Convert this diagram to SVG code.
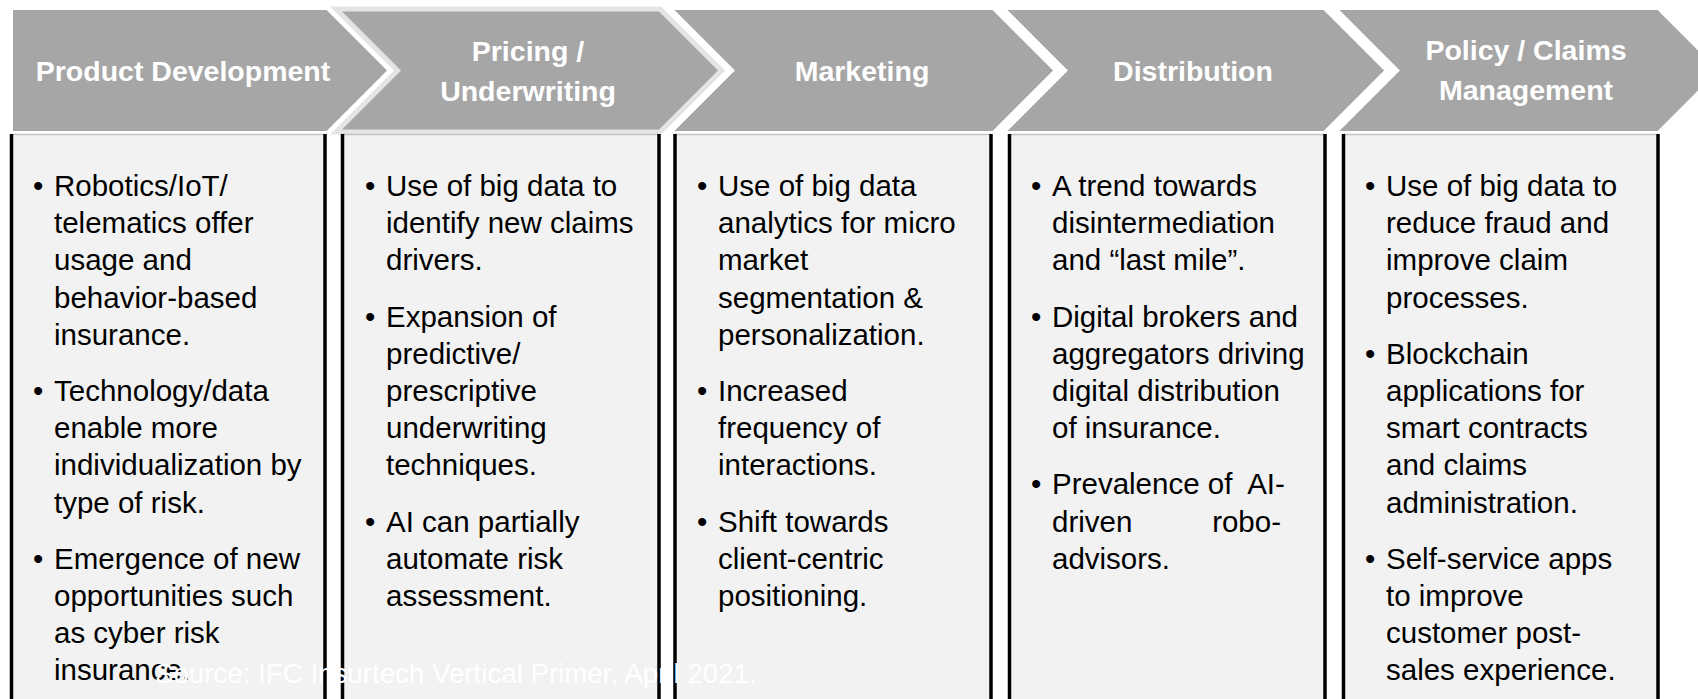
<svg xmlns="http://www.w3.org/2000/svg" width="1698" height="699" viewBox="0 0 1698 699">
<style>
.chev{fill:#a6a6a6;stroke:#ffffff;stroke-width:2}
.chev2{fill:#a6a6a6;stroke:#e4e4e4;stroke-width:5;stroke-linejoin:miter}
.hd{font-family:"Liberation Sans",Arial,sans-serif;font-weight:bold;font-size:28.5px;fill:#ffffff;text-anchor:middle}
.col{fill:#f2f2f2}
.top{stroke:#c4c4c4;stroke-width:1.5}
.bd{stroke:#000000;stroke-width:3.5}
.tx{font-family:"Liberation Sans",Arial,sans-serif;font-size:29.5px;fill:#000000;white-space:pre}
.src{font-family:"Liberation Sans",Arial,sans-serif;font-size:27.7px;fill:#ffffff}
</style>
<rect width="1698" height="699" fill="#ffffff"/>

<g id="product-development">
<polygon class="chev" points="12,9 327,9 388.5,70.5 327,132 12,132"/>
<text class="hd" x="183" y="81">Product Development</text>
<rect class="col" x="11.5" y="134" width="313.5" height="565"/>
<line class="top" x1="11.5" y1="134.5" x2="325" y2="134.5"/>
<line class="bd" x1="11.5" y1="134" x2="11.5" y2="699"/>
<line class="bd" x1="325" y1="134" x2="325" y2="699"/>
<text class="tx">
<tspan x="33" y="196">•</tspan><tspan x="54" y="196">Robotics/IoT/</tspan>
<tspan x="54" y="233.2">telematics offer</tspan>
<tspan x="54" y="270.4">usage and</tspan>
<tspan x="54" y="307.6">behavior-based</tspan>
<tspan x="54" y="344.8">insurance.</tspan>
<tspan x="33" y="401">•</tspan><tspan x="54" y="401">Technology/data</tspan>
<tspan x="54" y="438.2">enable more</tspan>
<tspan x="54" y="475.4">individualization by</tspan>
<tspan x="54" y="512.6">type of risk.</tspan>
<tspan x="33" y="568.8">•</tspan><tspan x="54" y="568.8">Emergence of new</tspan>
<tspan x="54" y="606">opportunities such</tspan>
<tspan x="54" y="643.2">as cyber risk</tspan>
<tspan x="54" y="680.4">insurance.</tspan>
</text>
</g>

<g id="pricing-underwriting">
<polygon class="chev2" points="336,9 660,9 721.5,70.5 660,132 336,132 397.5,70.5"/>
<text class="hd" x="528" y="61">Pricing /</text>
<text class="hd" x="528" y="101">Underwriting</text>
<rect class="col" x="342.5" y="134" width="316.5" height="565"/>
<line class="top" x1="342.5" y1="134.5" x2="659" y2="134.5"/>
<line class="bd" x1="342.5" y1="134" x2="342.5" y2="699"/>
<line class="bd" x1="659" y1="134" x2="659" y2="699"/>
<text class="tx">
<tspan x="365" y="196">•</tspan><tspan x="386" y="196">Use of big data to</tspan>
<tspan x="386" y="233.2">identify new claims</tspan>
<tspan x="386" y="270.4">drivers.</tspan>
<tspan x="365" y="326.6">•</tspan><tspan x="386" y="326.6">Expansion of</tspan>
<tspan x="386" y="363.8">predictive/</tspan>
<tspan x="386" y="401">prescriptive</tspan>
<tspan x="386" y="438.2">underwriting</tspan>
<tspan x="386" y="475.4">techniques.</tspan>
<tspan x="365" y="531.6">•</tspan><tspan x="386" y="531.6">AI can partially</tspan>
<tspan x="386" y="568.8">automate risk</tspan>
<tspan x="386" y="606">assessment.</tspan>
</text>
</g>

<g id="marketing">
<polygon class="chev" points="672,9 993,9 1054.5,70.5 993,132 672,132 733.5,70.5"/>
<text class="hd" x="862" y="81">Marketing</text>
<rect class="col" x="675" y="134" width="316" height="565"/>
<line class="top" x1="675" y1="134.5" x2="991" y2="134.5"/>
<line class="bd" x1="675" y1="134" x2="675" y2="699"/>
<line class="bd" x1="991" y1="134" x2="991" y2="699"/>
<text class="tx">
<tspan x="697" y="196">•</tspan><tspan x="718" y="196">Use of big data</tspan>
<tspan x="718" y="233.2">analytics for micro</tspan>
<tspan x="718" y="270.4">market</tspan>
<tspan x="718" y="307.6">segmentation &amp;</tspan>
<tspan x="718" y="344.8">personalization.</tspan>
<tspan x="697" y="401">•</tspan><tspan x="718" y="401">Increased</tspan>
<tspan x="718" y="438.2">frequency of</tspan>
<tspan x="718" y="475.4">interactions.</tspan>
<tspan x="697" y="531.6">•</tspan><tspan x="718" y="531.6">Shift towards</tspan>
<tspan x="718" y="568.8">client-centric</tspan>
<tspan x="718" y="606">positioning.</tspan>
</text>
</g>

<g id="distribution">
<polygon class="chev" points="1005,9 1324,9 1385.5,70.5 1324,132 1005,132 1066.5,70.5"/>
<text class="hd" x="1193" y="81">Distribution</text>
<rect class="col" x="1009.5" y="134" width="315.5" height="565"/>
<line class="top" x1="1009.5" y1="134.5" x2="1325" y2="134.5"/>
<line class="bd" x1="1009.5" y1="134" x2="1009.5" y2="699"/>
<line class="bd" x1="1325" y1="134" x2="1325" y2="699"/>
<text class="tx">
<tspan x="1031" y="196">•</tspan><tspan x="1052" y="196">A trend towards</tspan>
<tspan x="1052" y="233.2">disintermediation</tspan>
<tspan x="1052" y="270.4">and “last mile”.</tspan>
<tspan x="1031" y="326.6">•</tspan><tspan x="1052" y="326.6">Digital brokers and</tspan>
<tspan x="1052" y="363.8">aggregators driving</tspan>
<tspan x="1052" y="401">digital distribution</tspan>
<tspan x="1052" y="438.2">of insurance.</tspan>
<tspan x="1031" y="494.4">•</tspan><tspan x="1052" y="494.4">Prevalence of  AI-</tspan>
<tspan x="1052" y="531.6">driven</tspan>
<tspan x="1052" y="568.8">advisors.</tspan>
</text>
<text class="tx" x="1281" y="531.6" text-anchor="end">robo-</text>
</g>

<g id="policy-claims-management">
<polygon class="chev" points="1337,9 1658,9 1719.5,70.5 1658,132 1337,132 1398.5,70.5"/>
<text class="hd" x="1526" y="60">Policy / Claims</text>
<text class="hd" x="1526" y="100">Management</text>
<rect class="col" x="1343.5" y="134" width="314.5" height="565"/>
<line class="top" x1="1343.5" y1="134.5" x2="1658" y2="134.5"/>
<line class="bd" x1="1343.5" y1="134" x2="1343.5" y2="699"/>
<line class="bd" x1="1658" y1="134" x2="1658" y2="699"/>
<text class="tx">
<tspan x="1365" y="196">•</tspan><tspan x="1386" y="196">Use of big data to</tspan>
<tspan x="1386" y="233.2">reduce fraud and</tspan>
<tspan x="1386" y="270.4">improve claim</tspan>
<tspan x="1386" y="307.6">processes.</tspan>
<tspan x="1365" y="363.8">•</tspan><tspan x="1386" y="363.8">Blockchain</tspan>
<tspan x="1386" y="401">applications for</tspan>
<tspan x="1386" y="438.2">smart contracts</tspan>
<tspan x="1386" y="475.4">and claims</tspan>
<tspan x="1386" y="512.6">administration.</tspan>
<tspan x="1365" y="568.8">•</tspan><tspan x="1386" y="568.8">Self-service apps</tspan>
<tspan x="1386" y="606">to improve</tspan>
<tspan x="1386" y="643.2">customer post-</tspan>
<tspan x="1386" y="680.4">sales experience.</tspan>
</text>
</g>

<text id="source" class="src" x="155" y="683">Source: IFC Insurtech Vertical Primer, April 2021.</text>
</svg>
